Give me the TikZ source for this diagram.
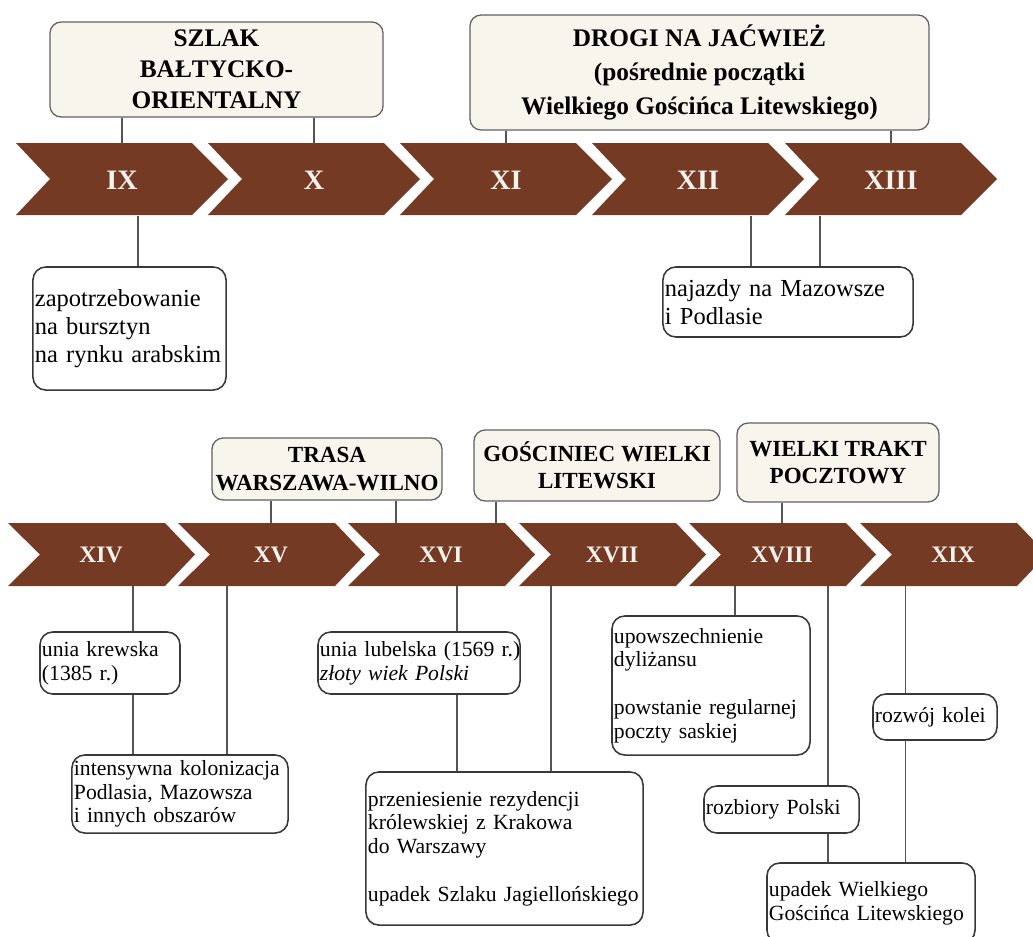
\documentclass[tikz,border=0pt]{standalone}
\usepackage{fontspec}
\setmainfont{Liberation Serif}
\usetikzlibrary{
    positioning,   % Relative positioning
    calc           % Coordinate calculations
}
\definecolor{CenturyBrown}{RGB}{117,58,35}
\definecolor{RouteCream}{RGB}{247,245,236}
\definecolor{LinkGray}{RGB}{85,85,85}
\definecolor{LabelWhite}{RGB}{246,242,238}
\tikzset{route box/.style={
    rectangle,
    draw=gray!75!black,
    line width=0.9pt,
    rounded corners=0.28cm,
    fill=RouteCream,
    align=center,
    inner sep=0pt
}}
\tikzset{route box top/.style={
    route box,
    font=\fontsize{18}{22}\selectfont\bfseries
}}
\tikzset{route box low/.style={
    route box,
    font=\fontsize{16.4}{19.5}\selectfont\bfseries
}}
\tikzset{event box/.style={
    rectangle,
    draw=black!78,
    line width=1.1pt,
    rounded corners=0.32cm,
    fill=white,
    align=left,
    inner xsep=0.05cm,
    inner ysep=0pt
}}
\tikzset{event box top/.style={
    event box,
    font=\fontsize{17.4}{19.9}\selectfont
}}
\tikzset{event box low/.style={
    event box,
    font=\fontsize{15.4}{16.9}\selectfont
}}
\tikzset{century arrow/.style={
    fill=CenturyBrown
}}
\tikzset{century label/.style={
    text=LabelWhite,
    inner sep=0pt
}}
\tikzset{link line/.style={
    draw=LinkGray,
    line width=1pt
}}

\begin{document}
\begin{tikzpicture}[x=0.025cm,y=-0.025cm]
    \useasboundingbox (0,0) rectangle (1033,936);

    % upper row of centuries
    \foreach \lx/\lab/\nm in {16/IX/c9, 208/X/c10, 400/XI/c11, 592/XII/c12, 785/XIII/c13}{
        \fill[century arrow] (\lx,143) -- ++(176,0) -- ++(36,36) -- ++(-36,36)
            -- ++(-176,0) -- ++(34,-36) -- cycle;
        \node[century label, minimum height=1.8cm,
            font=\fontsize{20}{21}\selectfont\bfseries] (\nm) at (\lx+106,180) {\lab};
    }

    % lower row of centuries
    \foreach \lx/\lab/\nm in {8/XIV/c14, 178/XV/c15, 348/XVI/c16, 519/XVII/c17, 689/XVIII/c18, 860/XIX/c19}{
        \fill[century arrow] (\lx,523) -- ++(157,0) -- ++(30,31.5) -- ++(-30,31.5)
            -- ++(-157,0) -- ++(32,-31.5) -- cycle;
        \node[century label, minimum height=1.575cm,
            font=\fontsize{16.8}{18}\selectfont\bfseries] (\nm) at (\lx+93,554.5) {\lab};
    }

    % routes (top)
    \node[route box top, minimum width=8.325cm, minimum height=2.375cm] (szlak) at (216.5,69.5)
        {SZLAK\\BAŁTYCKO-\\ORIENTALNY};
    \node[route box top, minimum width=11.475cm, minimum height=2.875cm,
        font=\fontsize{18}{24}\selectfont\bfseries] (drogi) at (699.5,72.5)
        {DROGI NA JAĆWIEŻ\\(pośrednie początki\\Wielkiego Gościńca Litewskiego)};

    % routes (bottom)
    \node[route box low, minimum width=5.75cm, minimum height=1.55cm] (trasa) at (327,469)
        {TRASA\\WARSZAWA-WILNO};
    \node[route box low, minimum width=6.15cm, minimum height=1.775cm] (gosc) at (597,465.5)
        {GOŚCINIEC WIELKI\\LITEWSKI};
    \node[route box low, minimum width=5.05cm, minimum height=1.975cm] (trakt) at (838,462.5)
        {WIELKI TRAKT\\POCZTOWY};

    \draw[link line] (szlak.south -| c9) -- (c9.north);
    \draw[link line] (szlak.south -| c10) -- (c10.north);
    \draw[link line] (drogi.south -| c11) -- (c11.north);
    \draw[link line] (drogi.south -| c13) -- (c13.north);
    \draw[link line] (trasa.south -| c15) -- (c15.north);
    \draw[link line] ([xshift=1.725cm]trasa.south) -- ([xshift=1.725cm]trasa.south |- c16.north);
    \draw[link line] ([xshift=-2.525cm]gosc.south) -- ([xshift=-2.525cm]gosc.south |- c16.north);
    \draw[link line] (trakt.south -| c18) -- (c18.north);

    % events (top)
    \node[event box top, text width=4.725cm, minimum height=3.075cm] (zap) at (129.5,328.5)
        {zapotrzebowanie\\na bursztyn\\na rynku arabskim};
    \node[event box top, text width=6.15cm, minimum height=1.75cm] (najazdy) at (788,302)
        {najazdy na Mazowsze\\i Podlasie};

    % events (bottom)
    \node[event box low, text width=3.4cm, minimum height=1.55cm] (krewska) at (110,663)
        {unia krewska\\(1385 r.)};
    \node[event box low, text width=5.3cm, minimum height=1.95cm] (kolon) at (180,794)
        {intensywna kolonizacja\\Podlasia, Mazowsza\\i innych obszarów};
    \node[event box low, text width=4.95cm, minimum height=1.55cm] (lubelska) at (419,663)
        {\mbox{unia lubelska (1569 r.)}\\\textit{złoty wiek Polski}};
    \node[event box low, text width=6.825cm, minimum height=3.825cm] (przen) at (504.5,848.5)
        {przeniesienie rezydencji\\królewskiej z Krakowa\\do Warszawy\\[16.9pt]upadek Szlaku Jagiellońskiego};
    \node[event box low, text width=4.85cm, minimum height=3.475cm] (upow) at (711,685.5)
        {upowszechnienie\\dyliżansu\\[16.9pt]powstanie regularnej\\poczty saskiej};
    \node[event box low, text width=3.775cm, minimum height=1.175cm] (rozbiory) at (781.5,809.5)
        {rozbiory Polski};
    \node[event box low, text width=3.0cm, minimum height=1.15cm] (kolei) at (935,717)
        {rozwój kolei};
    \node[event box low, text width=5.1cm, minimum height=2cm] (upadek) at (871,903)
        {upadek Wielkiego\\Gościńca Litewskiego};

    \draw[link line] ([xshift=0.2125cm]zap.north) -- ([xshift=0.2125cm]zap.north |- c9.south);
    \draw[link line] ([xshift=-0.925cm]najazdy.north) -- ([xshift=-0.925cm]najazdy.north |- c12.south);
    \draw[link line] ([xshift=0.8cm]najazdy.north) -- ([xshift=0.8cm]najazdy.north |- c13.south);

    \draw[link line] ([xshift=0.575cm]krewska.north) -- ([xshift=0.575cm]krewska.north |- c14.south);
    \draw[link line] ([xshift=0.575cm]krewska.south) -- ([xshift=0.575cm]krewska.south |- kolon.north);
    \draw[link line] ([xshift=1.175cm]kolon.north) -- ([xshift=1.175cm]kolon.north |- c15.south);
    \draw[link line] ([xshift=0.95cm]lubelska.north) -- ([xshift=0.95cm]lubelska.north |- c16.south);
    \draw[link line] ([xshift=0.95cm]lubelska.south) -- ([xshift=0.95cm]lubelska.south |- przen.north);
    \draw[link line] ([xshift=1.1625cm]przen.north) -- ([xshift=1.1625cm]przen.north |- c17.south);
    \draw[link line] ([xshift=0.6cm]upow.north) -- ([xshift=0.6cm]upow.north |- c18.south);
    \draw[link line] ([xshift=1.1625cm]rozbiory.north) -- ([xshift=1.1625cm]rozbiory.north |- c18.south);
    \draw[link line] ([xshift=1.1625cm]rozbiory.south) -- ([xshift=1.1625cm]rozbiory.south |- upadek.north);
    \draw[link line] ([xshift=-0.7375cm]kolei.north) -- ([xshift=-0.7375cm]kolei.north |- c19.south);
    \draw[link line] ([xshift=-0.7375cm]kolei.south) -- ([xshift=-0.7375cm]kolei.south |- upadek.north);
\end{tikzpicture}
\end{document}
